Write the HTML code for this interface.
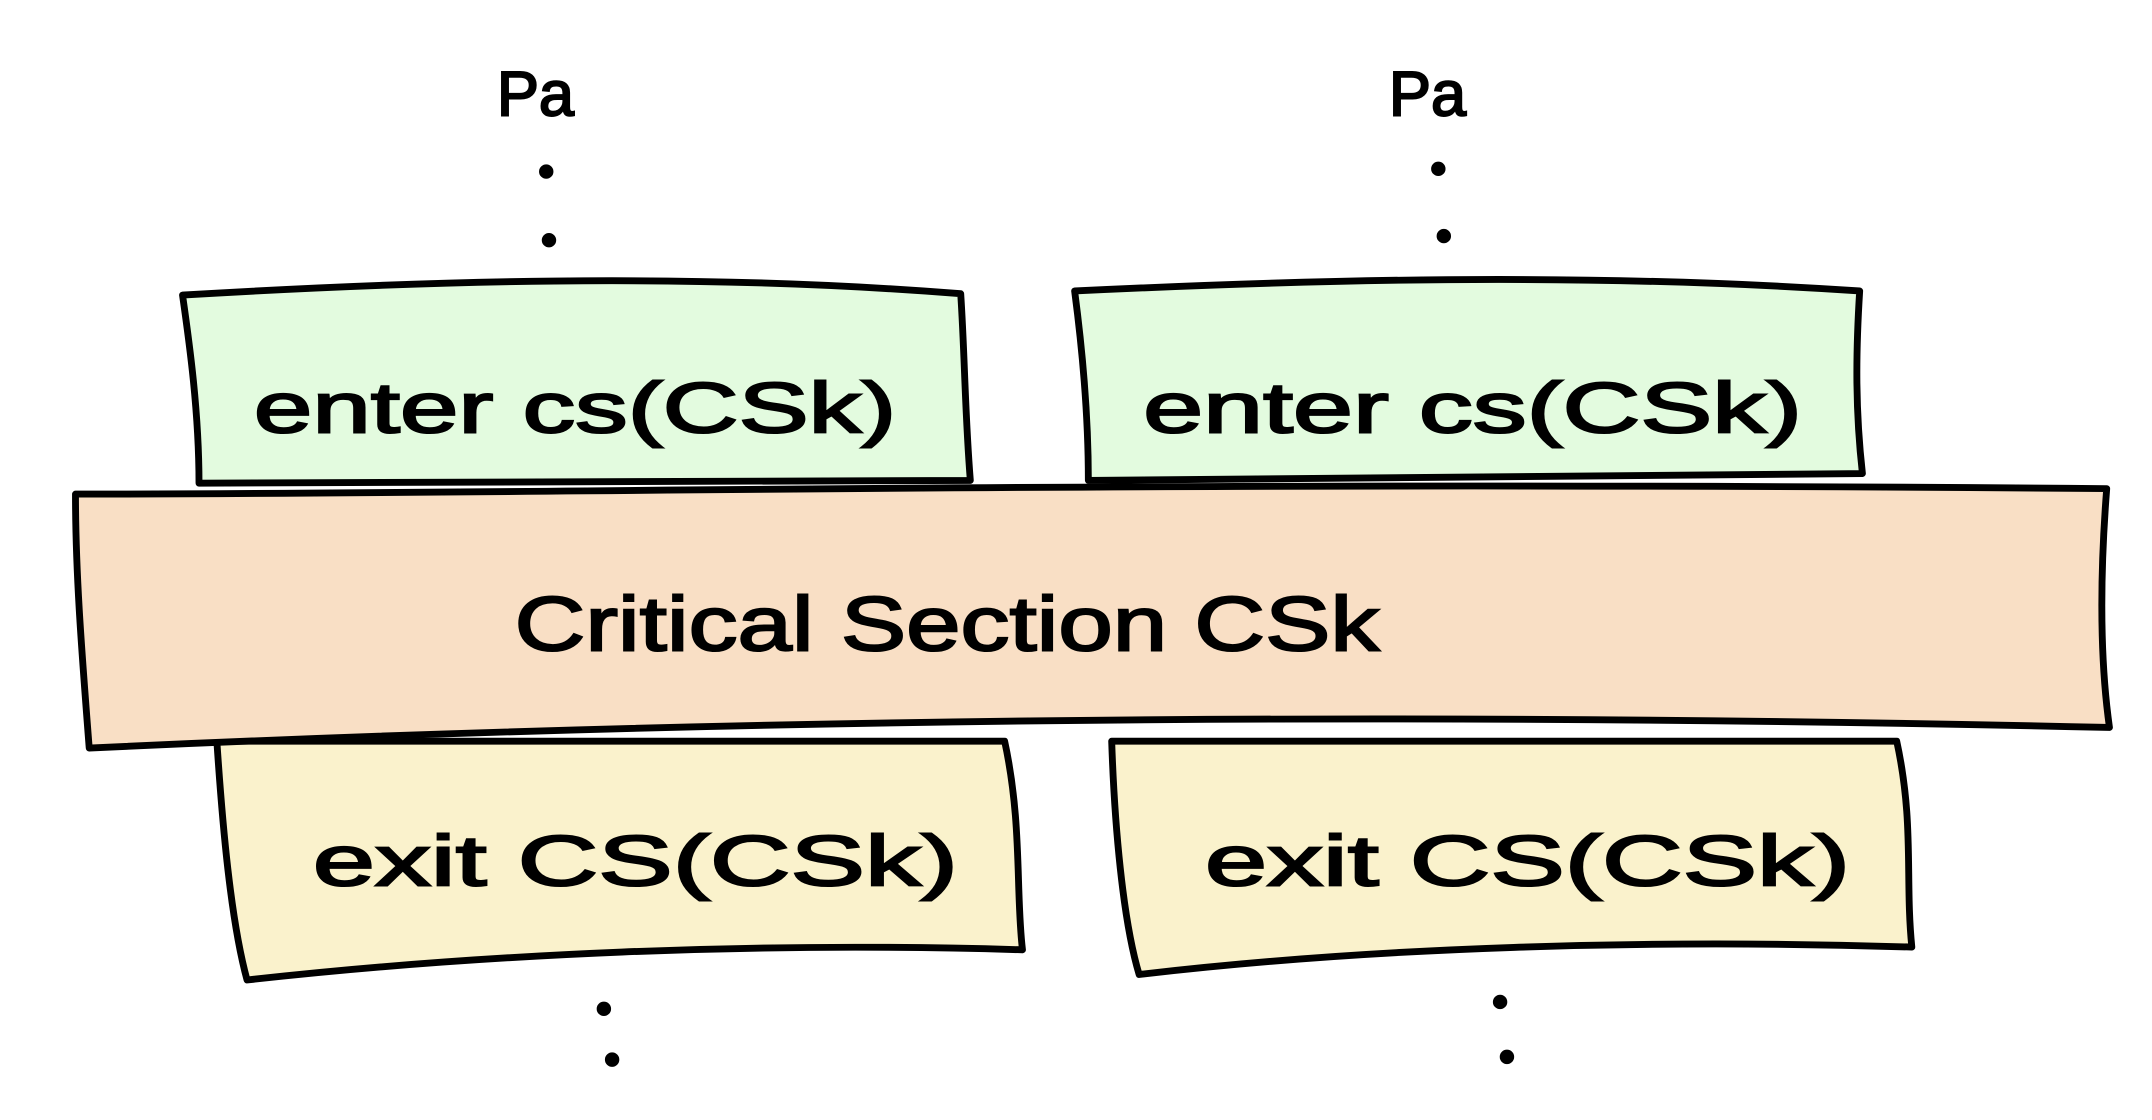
<!DOCTYPE html>
<html><head><meta charset="utf-8"><style>html,body{margin:0;padding:0;background:#fff}svg{display:block}</style></head>
<body>
<svg width="2152" height="1120" viewBox="0 0 1568 816" preserveAspectRatio="none" xmlns="http://www.w3.org/2000/svg">
<g fill="none" stroke="#000" stroke-width="5" stroke-linecap="round" stroke-linejoin="round">
<path d="M133,215 C300,205 500,198 700,214 C703,260 703,300 707,350 L145,352 C145,300 138,250 133,215 Z" fill="#e3fbdf"/>
<path d="M783,212 C950,204 1150,198 1355,212 C1352,260 1352,300 1357,345 L793,350 C793,300 788,250 783,212 Z" fill="#e3fbdf"/>
<path d="M158,540 L732,540 C745,600 740,650 745,692 C550,686 350,695 180,714 C168,670 162,600 158,540 Z" fill="#faf2cc"/>
<path d="M810,540 L1382,540 C1395,600 1388,640 1393,690 C1200,684 1000,690 830,710 C818,670 812,600 810,540 Z" fill="#faf2cc"/>
<path d="M55,360 C400,360 800,350 1535,356 C1530,420 1530,480 1537,530 C1100,520 600,520 65,545 C60,480 55,420 55,360 Z" fill="#f9dfc5"/>
</g>
<g font-family="Liberation Sans, sans-serif" fill="#000" stroke="#000" stroke-width="1.5">
<text x="362" y="84" font-size="46">Pa</text>
<text x="1012" y="84" font-size="46">Pa</text>
<circle cx="398" cy="125" r="4.5"/><circle cx="400" cy="175" r="4.5"/>
<circle cx="1048" cy="123" r="4.5"/><circle cx="1052" cy="172" r="4.5"/>
<circle cx="440" cy="735" r="4.5"/><circle cx="446" cy="772" r="4.5"/>
<circle cx="1093" cy="730" r="4.5"/><circle cx="1098" cy="770" r="4.5"/>
<text x="185" y="315" font-size="52" textLength="468" lengthAdjust="spacingAndGlyphs">enter cs(CSk)</text>
<text x="833" y="315" font-size="52" textLength="480" lengthAdjust="spacingAndGlyphs">enter cs(CSk)</text>
<text x="375" y="474" font-size="56" textLength="630" lengthAdjust="spacingAndGlyphs">Critical Section CSk</text>
<text x="228" y="645" font-size="52" textLength="470" lengthAdjust="spacingAndGlyphs">exit CS(CSk)</text>
<text x="878" y="645" font-size="52" textLength="470" lengthAdjust="spacingAndGlyphs">exit CS(CSk)</text>
</g>
</svg>
</body></html>
